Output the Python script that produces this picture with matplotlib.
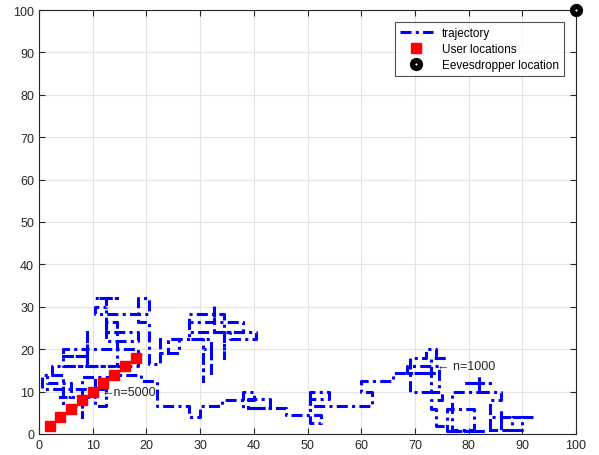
import numpy as np
import matplotlib
matplotlib.use('Agg')
import matplotlib.pyplot as plt

# ─────────────────────────────────────────────────────────────────────────────
# DATA  (corner points of the random-walk trajectory)
# ─────────────────────────────────────────────────────────────────────────────

right_cluster = [
    (92, 4), (84, 4), (84, 1), (88, 1), (88, 4), (90, 4), (90, 1), (86, 1),
    (86, 6), (86, 1), (84, 1), (84, 8),
    (86, 8), (86, 10), (82, 10), (82, 12), (79, 12), (84, 12), (82, 12),
    (82, 14), (82, 10), (77, 10), (77, 1), (81, 1), (81, 6), (76, 6),
    (76, 0.8), (83, 0.8), (76, 0.8),
    (76, 2), (74, 2), (74, 6), (73, 6), (73, 8), (75, 8), (75, 10), (69, 10),
    (69, 18), (72, 18), (72, 20), (74, 20), (74, 18), (76, 18), (73, 18),
    (73, 10), (74.5, 10), (74.5, 16), (68.5, 16), (68.5, 14.5), (74, 14.5),
    (66, 14.5), (66, 12.5), (60, 12.5), (60, 10), (62, 10), (62, 6.5),
]

corridor = [
    (62, 6.5), (50.5, 6.5), (50.5, 10), (54, 10), (54, 8.3), (50.5, 8.3),
    (50.5, 2.5), (52.5, 2.5), (52.5, 4.5), (46, 4.5), (46, 6.2), (39, 6.2),
    (39, 8.3), (43, 8.3), (43, 6.2), (38, 6.2), (38, 10), (40, 10), (40, 8),
    (34, 8), (34, 6.5), (30, 6.5), (30, 4), (28, 4), (28, 6.5), (22, 6.5),
    (22, 12.5), (19, 12.5),
]

left_cluster = [
    (19, 12.5), (19, 14), (14, 14), (14, 13.5), (8, 13.5), (8, 4), (8, 6.5),
    (4.5, 6.5), (4.5, 14), (0.5, 14), (0.5, 10.5), (12.5, 10.5), (12.5, 6.5),
    (10.5, 6.5), (10.5, 13.5), (10.5, 8.7), (4, 8.7), (6, 8.7), (6, 12),
    (1.5, 12), (1.5, 14), (2.5, 14), (2.5, 16), (14, 16), (4.5, 16),
    (4.5, 20), (9, 20), (9, 24), (9, 16), (9, 18.5), (4.5, 18.5), (9, 18.5),
    (9, 20), (18.5, 20), (18.5, 16), (14.5, 16), (14.5, 26.5), (12.5, 26.5),
    (12.5, 22), (18.5, 22), (18.5, 24), (12.5, 24), (12.5, 32), (10.5, 32),
    (14.5, 32), (12.5, 32), (12.5, 30), (10.5, 30), (10.5, 28.3),
    (20.5, 28.3), (20.5, 32), (18.5, 32), (18.5, 26.5), (20.5, 26.5),
    (20.5, 16.5), (22.5, 16.5), (22.5, 22.4),
]

mid_cluster = [
    (22.5, 22.4), (22.5, 19), (26, 19), (26, 22.4), (24, 22.4), (24, 19),
    (24, 22.4), (30.5, 22.4), (30.5, 12.5), (30.5, 20), (32, 20),
    (32, 14.5), (32, 22.4), (28, 22.4), (28, 28.3), (34.5, 28.3), (34.5, 18),
    (34.5, 24), (28, 24), (28, 26.4), (38, 26.4), (38, 24), (35.5, 24),
    (35.5, 22.4), (40.5, 22.4), (40.5, 24), (32.5, 24), (32.5, 30.2),
    (32.5, 26.4),
]

user_x = [2, 4, 6, 8, 10, 12, 14, 16, 18]
user_y = [2, 4, 6, 8, 10, 12, 14, 16, 18]

eve_x, eve_y = [100], [100]

labels = [('\u2190 n=1000', 74.2, 16.0), ('\u2190n=5000', 11.6, 9.9)]

# ─────────────────────────────────────────────────────────────────────────────
# PLOT
# ─────────────────────────────────────────────────────────────────────────────

plt.rcParams['font.family'] = ['Liberation Sans', 'DejaVu Sans']

traj = np.array(right_cluster + corridor + left_cluster + mid_cluster)

fig = plt.figure(figsize=(5.99, 4.56), dpi=100)
ax = fig.add_axes([39 / 599, 21 / 456, 537 / 599, 424 / 456])

ax.plot(traj[:, 0], traj[:, 1], color='#0000ff', lw=2.2,
        linestyle=(0, (3.6, 1.4, 1, 1.4)), label='trajectory', zorder=3)
ax.plot(user_x, user_y, 's', color='#ff0000', ms=7.2, ls='none',
        label='User locations', zorder=4)
ax.plot(eve_x, eve_y, 'o', mfc='white', mec='black', mew=3.9, ms=5.6,
        ls='none', label='Eevesdropper location', zorder=5, clip_on=False)

for txt, x, y in labels:
    ax.text(x, y, txt, fontsize=9, color='#262626', va='center', ha='left',
            zorder=6)

ax.set_xlim(0, 100)
ax.set_ylim(0, 100)
ax.set_xticks(np.arange(0, 101, 10))
ax.set_yticks(np.arange(0, 101, 10))
ax.grid(True, color='#e3e3e3', lw=0.8)
ax.set_axisbelow(True)
ax.tick_params(direction='in', top=True, right=True, labelsize=9,
               colors='#262626', length=4)
for s in ax.spines.values():
    s.set_color('#262626')
    s.set_linewidth(0.8)

leg = ax.legend(loc='upper right', bbox_to_anchor=(0.982, 0.977),
                fontsize=8.5, frameon=True, fancybox=False, edgecolor='#262626',
                handlelength=2.8, borderpad=0.4, labelspacing=0.35,
                borderaxespad=0.2)
leg.get_frame().set_linewidth(0.8)

fig.savefig('out.png', dpi=100)
